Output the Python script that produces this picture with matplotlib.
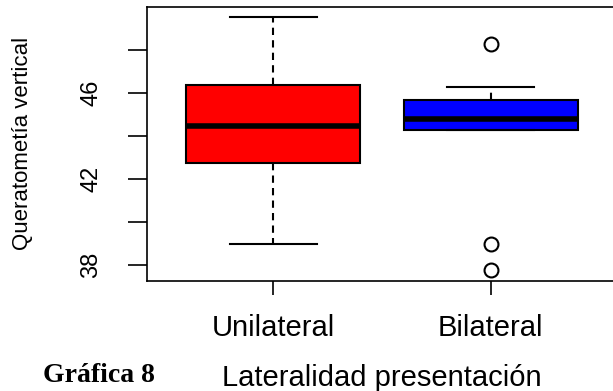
import matplotlib.pyplot as plt

# data
groups = ['Unilateral', 'Bilateral']
medians = [44.47, 44.78]
q1 = [42.76, 44.26]
q3 = [46.37, 45.66]
whis_lo = [38.99, 44.26]
whis_hi = [49.53, 46.26]
outliers = [[], [48.28, 38.99, 37.75]]
box_colors = ['#ff0000', '#0000ff']

yticks = [38, 40, 42, 44, 46, 48]
ytick_labels = ['38', '', '42', '', '46', '']

plt.rcParams['font.family'] = ['Liberation Sans', 'DejaVu Sans']

fig = plt.figure(figsize=(6.13, 3.91), dpi=100)
ax = fig.add_axes([147 / 613, 110 / 391, 470 / 613, 274 / 391])

stats = []
for i in range(len(groups)):
    stats.append({'med': medians[i], 'q1': q1[i], 'q3': q3[i],
                  'whislo': whis_lo[i], 'whishi': whis_hi[i],
                  'fliers': outliers[i], 'label': groups[i]})

bp = ax.bxp(stats, positions=[1, 2], widths=0.8, patch_artist=True,
            boxprops=dict(edgecolor='black', linewidth=1.5),
            medianprops=dict(color='black', linewidth=4, solid_capstyle='butt'),
            whiskerprops=dict(color='black', linewidth=1.5, linestyle=(0, (3.5, 2.5))),
            capprops=dict(color='black', linewidth=1.5),
            capwidths=0.4,
            flierprops=dict(marker='o', markerfacecolor='none', markeredgecolor='black',
                            markersize=10, markeredgewidth=1.5))
for patch, c in zip(bp['boxes'], box_colors):
    patch.set_facecolor(c)

ax.set_xlim(0.42, 2.58)
ax.set_ylim(37.256, 50.0)
ax.set_yticks(yticks)
ax.set_yticklabels(ytick_labels, rotation=90, va='center', fontsize=17)
ax.set_xticks([1, 2])
ax.set_xticklabels(groups, fontsize=21)
ax.tick_params(axis='y', length=14, width=1.2, pad=18)
ax.tick_params(axis='x', length=10, width=1.2, pad=14)
for s in ax.spines.values():
    s.set_linewidth(1.2)

ax.set_ylabel('Queratometía vertical', fontsize=16)
ax.yaxis.set_label_coords(-0.243, 0.502)
ax.set_xlabel('Lateralidad presentación', fontsize=21, va='baseline')
ax.xaxis.set_label_coords(0.5, -0.382)

fig.text(99 / 613, 8.5 / 391, 'Gráfica 8', ha='center', va='baseline',
         fontsize=20, fontweight='bold', family=['Liberation Serif', 'DejaVu Serif'])

fig.savefig('out.png', dpi=100)
